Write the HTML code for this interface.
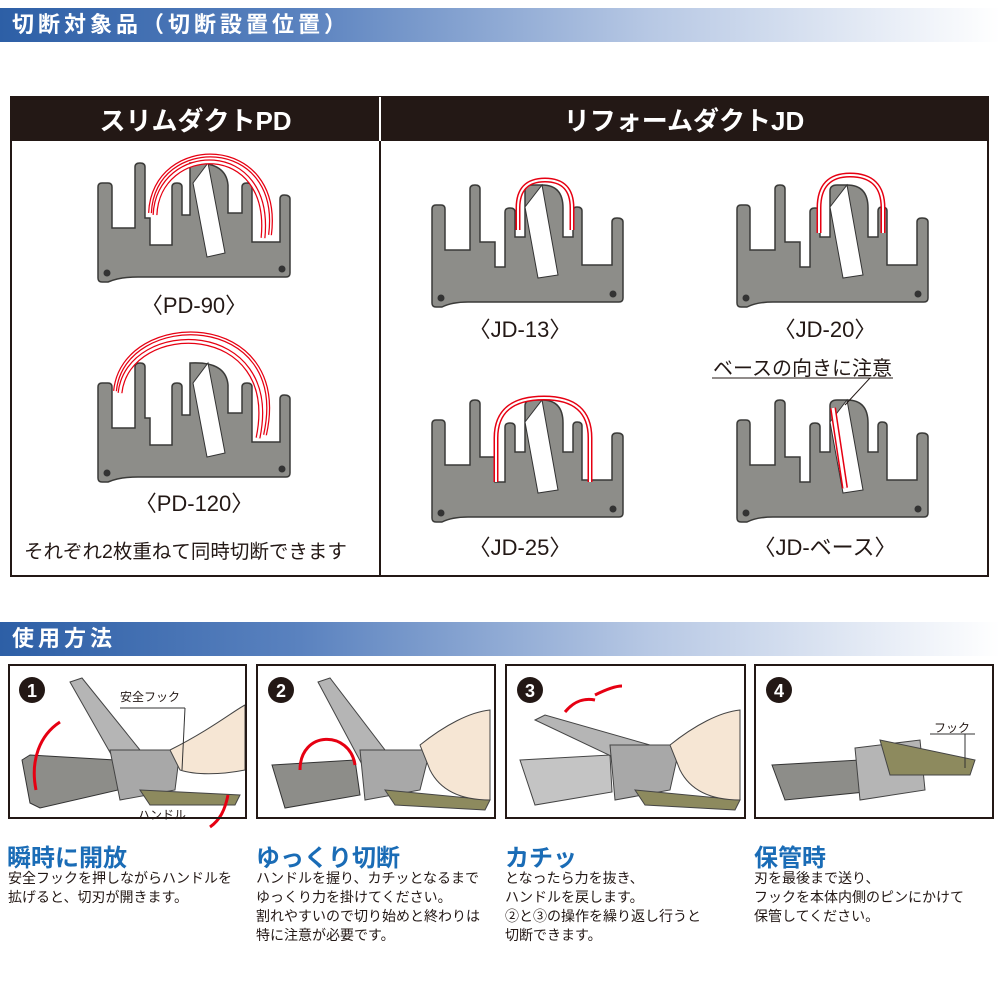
<!DOCTYPE html>
<html><head><meta charset="utf-8"><style>
body{margin:0;width:1000px;height:1000px;background:#fff;font-family:"Liberation Sans","Noto Sans CJK JP",sans-serif;position:relative;overflow:hidden}
.bar{position:absolute;left:0;width:1000px;height:34px;background:linear-gradient(90deg,#2d5fa6 0%,#5a82bf 30%,#b7c8e4 65%,#fff 100%);color:#fff;font-weight:bold;font-size:22px;line-height:34px;letter-spacing:4px;padding-left:12px;box-sizing:border-box}
.t{position:absolute;white-space:nowrap;color:#231815}
.h{position:absolute;font-weight:bold;color:#1a6cb6;font-size:24px;white-space:nowrap}
.p{position:absolute;font-size:14px;line-height:19px;color:#231815;white-space:nowrap}
.box{position:absolute;top:664px;height:155px;border:2px solid #231815;box-sizing:border-box}
</style></head><body>
<div class="bar" style="top:8px">切断対象品（切断設置位置）</div>
<div class="bar" style="top:622px">使用方法</div>

<svg style="position:absolute;left:0;top:0" width="1000" height="1000">
<defs>
<path id="pd" d="M0,24 Q0,20 4,20 H10 Q14,20 14,24 V65 H37 V4 Q37,0 42,0 Q47,0 47,4 V55 H52 V82 H74 V24 Q74,20 79,20 Q84,20 84,24 V52 H92 V0 Q128,-2 130,22 V50 H144 V24 Q144,20 149,20 Q154,20 154,24 V79 H182 V36 Q182,32 186,32 Q192,32 192,36 V110 Q192,114 188,114 H40 Q22,114 10,119 H4 Q0,119 0,115 Z" fill="#8d8d89" stroke="#3a3a38" stroke-width="1.5"/>
<path id="jd" d="M0,26 Q0,22 4,22 H9 Q13,22 13,26 V67 H38 V6 Q38,2 43,2 Q48,2 48,6 V59 H63 V84 H73 V29 Q73,25 78,25 Q83,25 83,29 V54 H93 V8 Q93,2 100,2 H110 Q131,2 131,25 V54 H141 V28 Q141,24 145,24 Q150,24 150,28 V82 H180 V39 Q180,35 185,35 Q191,35 191,39 V115 Q191,119 187,119 H36 Q20,119 10,124 H4 Q0,124 0,120 Z" fill="#8d8d89" stroke="#3a3a38" stroke-width="1.5"/>
</defs>
<rect x="11" y="97" width="977" height="479" fill="none" stroke="#231815" stroke-width="2"/>
<rect x="11" y="97" width="977" height="44" fill="#231815"/>
<line x1="380" y1="97" x2="380" y2="576" stroke="#231815" stroke-width="2"/>
<line x1="380" y1="97" x2="380" y2="141" stroke="#fff" stroke-width="2"/>
<g transform="translate(98,163)"><use href="#pd"/><circle cx="9" cy="110" r="3.5" fill="#333"/><circle cx="184" cy="106" r="3.5" fill="#333"/>
<polygon points="95,20 110,0 127,90 109,94" fill="#fff" stroke="#333"/>
<path d="M57,52 C60,-20 175,-25 165,75" fill="none" stroke="#e60012" stroke-width="5"/><path d="M57,52 C60,-20 175,-25 165,75" fill="none" stroke="#fff" stroke-width="2.5"/>
<path d="M52,50 C55,-30 185,-30 172,72" fill="none" stroke="#e60012" stroke-width="4"/><path d="M52,50 C55,-30 185,-30 172,72" fill="none" stroke="#fff" stroke-width="1.5"/></g>
<g transform="translate(98,363)"><use href="#pd"/><circle cx="9" cy="110" r="3.5" fill="#333"/><circle cx="184" cy="106" r="3.5" fill="#333"/>
<polygon points="95,20 110,0 127,90 109,94" fill="#fff" stroke="#333"/>
<path d="M22,30 C30,-45 185,-45 160,75" fill="none" stroke="#e60012" stroke-width="5"/><path d="M22,30 C30,-45 185,-45 160,75" fill="none" stroke="#fff" stroke-width="2.5"/>
<path d="M17,28 C25,-55 195,-55 167,72" fill="none" stroke="#e60012" stroke-width="4"/><path d="M17,28 C25,-55 195,-55 167,72" fill="none" stroke="#fff" stroke-width="1.5"/></g>
<g transform="translate(432,183)"><use href="#jd"/><circle cx="9" cy="115" r="3.5" fill="#333"/><circle cx="181" cy="111" r="3.5" fill="#333"/>
<polygon points="93,24 110,2 126,92 106,95" fill="#fff" stroke="#333"/>
<path d="M86,47 V25 Q86,-3 113,-3 Q140,-3 140,25 V47" fill="none" stroke="#e60012" stroke-width="5"/><path d="M86,47 V25 Q86,-3 113,-3 Q140,-3 140,25 V47" fill="none" stroke="#fff" stroke-width="2"/></g>
<g transform="translate(737,183)"><use href="#jd"/><circle cx="9" cy="115" r="3.5" fill="#333"/><circle cx="181" cy="111" r="3.5" fill="#333"/>
<polygon points="93,24 110,2 126,92 106,95" fill="#fff" stroke="#333"/>
<path d="M82,50 V25 Q82,-8 113,-8 Q146,-8 146,25 V50" fill="none" stroke="#e60012" stroke-width="5"/><path d="M82,50 V25 Q82,-8 113,-8 Q146,-8 146,25 V50" fill="none" stroke="#fff" stroke-width="2"/></g>
<g transform="translate(432,398)"><use href="#jd"/><circle cx="9" cy="115" r="3.5" fill="#333"/><circle cx="181" cy="111" r="3.5" fill="#333"/>
<polygon points="93,24 110,2 126,92 106,95" fill="#fff" stroke="#333"/>
<path d="M64,84 V40 Q64,0 112,0 Q158,0 158,40 V84" fill="none" stroke="#e60012" stroke-width="5"/><path d="M64,84 V40 Q64,0 112,0 Q158,0 158,40 V84" fill="none" stroke="#fff" stroke-width="2"/></g>
<g transform="translate(737,398)"><use href="#jd"/><circle cx="9" cy="115" r="3.5" fill="#333"/><circle cx="181" cy="111" r="3.5" fill="#333"/>
<polygon points="93,24 110,2 126,92 106,95" fill="#fff" stroke="#333"/>
<path d="M96,10 L108,90" fill="none" stroke="#e60012" stroke-width="6"/><path d="M96,10 L108,90" fill="none" stroke="#fff" stroke-width="3"/></g>
<polyline points="712,378 893,378" stroke="#231815" stroke-width="1"/><line x1="870" y1="378" x2="845" y2="405" stroke="#231815"/>

<g>
<circle cx="32" cy="690" r="13" fill="#231815"/><text x="32" y="697" fill="#fff" font-size="18" font-weight="bold" text-anchor="middle" font-family="Liberation Sans">1</text>
<polygon points="22,760 30,755 115,760 118,790 40,808 30,803" fill="#8d8d89" stroke="#333"/>
<polygon points="70,682 82,678 140,750 120,770" fill="#b5b5b5" stroke="#444"/>
<polygon points="110,750 180,750 175,790 120,800" fill="#a8a8a8" stroke="#444"/>
<polygon points="140,790 240,795 235,805 150,805" fill="#8d8a5e" stroke="#444"/>
<path d="M170,750 C210,730 235,710 245,705 L245,770 C220,775 195,775 180,770 Z" fill="#f6e6d4" stroke="#444"/>
<path d="M36,790 C30,760 40,735 60,722" fill="none" stroke="#e60012" stroke-width="3"/>
<path d="M228,795 C225,810 220,820 210,827" fill="none" stroke="#e60012" stroke-width="3"/>
<line x1="120" y1="708" x2="185" y2="708" stroke="#333"/><line x1="185" y1="708" x2="182" y2="770" stroke="#333"/>
<circle cx="281" cy="690" r="13" fill="#231815"/><text x="281" y="697" fill="#fff" font-size="18" font-weight="bold" text-anchor="middle" font-family="Liberation Sans">2</text>
<polygon points="272,765 355,760 360,795 285,808" fill="#8d8d89" stroke="#333"/>
<polygon points="318,682 330,678 385,750 365,770" fill="#b5b5b5" stroke="#444"/>
<polygon points="360,750 430,750 420,790 365,800" fill="#a8a8a8" stroke="#444"/>
<polygon points="385,790 490,800 485,810 395,805" fill="#8d8a5e" stroke="#444"/>
<path d="M420,745 C445,725 470,712 490,710 L490,800 C460,800 440,790 430,770 Z" fill="#f6e6d4" stroke="#444"/>
<path d="M300,770 C300,730 350,730 355,765" fill="none" stroke="#e60012" stroke-width="3"/>
<circle cx="530" cy="690" r="13" fill="#231815"/><text x="530" y="697" fill="#fff" font-size="18" font-weight="bold" text-anchor="middle" font-family="Liberation Sans">3</text>
<polygon points="520,760 610,755 612,792 535,805" fill="#c4c4c4" stroke="#444"/>
<polygon points="535,720 545,715 650,745 630,765" fill="#b5b5b5" stroke="#444"/>
<polygon points="610,745 680,745 670,790 615,800" fill="#a8a8a8" stroke="#444"/>
<polygon points="635,790 740,800 735,810 645,805" fill="#8d8a5e" stroke="#444"/>
<path d="M670,745 C695,725 720,712 740,710 L740,800 C710,800 690,790 680,770 Z" fill="#f6e6d4" stroke="#444"/>
<path d="M565,712 C575,700 585,698 595,700" fill="none" stroke="#e60012" stroke-width="3"/>
<path d="M595,695 C605,690 615,686 622,686" fill="none" stroke="#e60012" stroke-width="3"/>
<circle cx="779" cy="690" r="13" fill="#231815"/><text x="779" y="697" fill="#fff" font-size="18" font-weight="bold" text-anchor="middle" font-family="Liberation Sans">4</text>
<polygon points="772,765 860,760 865,792 785,800" fill="#8d8d89" stroke="#333"/>
<polygon points="855,748 920,740 925,790 860,800" fill="#b5b5b5" stroke="#444"/>
<polygon points="880,740 975,760 970,775 890,775" fill="#8d8a5e" stroke="#444"/>
<line x1="930" y1="734" x2="975" y2="734" stroke="#333"/><line x1="965" y1="734" x2="965" y2="768" stroke="#333"/>
</g>
</svg>
<div class="box" style="left:8px;width:239px"></div>
<div class="box" style="left:256px;width:240px"></div>
<div class="box" style="left:505px;width:241px"></div>
<div class="box" style="left:754px;width:240px"></div>

<div class="t" style="left:11px;width:369px;top:101px;text-align:center;color:#fff;font-size:26px;font-weight:bold">スリムダクトPD</div>
<div class="t" style="left:380px;width:608px;top:101px;text-align:center;color:#fff;font-size:26px;font-weight:bold">リフォームダクトJD</div>
<div class="t" style="left:98px;width:192px;top:288px;text-align:center;font-size:22px">〈PD-90〉</div>
<div class="t" style="left:98px;width:192px;top:486px;text-align:center;font-size:22px">〈PD-120〉</div>
<div class="t" style="left:420px;width:200px;top:312px;text-align:center;font-size:22px">〈JD-13〉</div>
<div class="t" style="left:725px;width:200px;top:312px;text-align:center;font-size:22px">〈JD-20〉</div>
<div class="t" style="left:420px;width:200px;top:530px;text-align:center;font-size:22px">〈JD-25〉</div>
<div class="t" style="left:725px;width:200px;top:530px;text-align:center;font-size:22px">〈JD-ベース〉</div>
<div class="t" style="left:713px;top:352px;font-size:20px">ベースの向きに注意</div>
<div class="t" style="left:24px;top:535px;font-size:19.5px">それぞれ2枚重ねて同時切断できます</div>
<div class="t" style="left:120px;top:688px;font-size:12px">安全フック</div>
<div class="t" style="left:138px;top:806px;font-size:12px">ハンドル</div>
<div class="t" style="left:934px;top:719px;font-size:12px">フック</div>

<div class="h" style="left:7px;top:838px">瞬時に開放</div>
<div class="h" style="left:256px;top:838px">ゆっくり切断</div>
<div class="h" style="left:505px;top:838px">カチッ</div>
<div class="h" style="left:754px;top:838px">保管時</div>
<div class="p" style="left:8px;top:869px">安全フックを押しながらハンドルを<br>拡げると、切刃が開きます。</div>
<div class="p" style="left:256px;top:869px">ハンドルを握り、カチッとなるまで<br>ゆっくり力を掛けてください。<br>割れやすいので切り始めと終わりは<br>特に注意が必要です。</div>
<div class="p" style="left:505px;top:869px">となったら力を抜き、<br>ハンドルを戻します。<br>②と③の操作を繰り返し行うと<br>切断できます。</div>
<div class="p" style="left:754px;top:869px">刃を最後まで送り、<br>フックを本体内側のピンにかけて<br>保管してください。</div>
</body></html>
